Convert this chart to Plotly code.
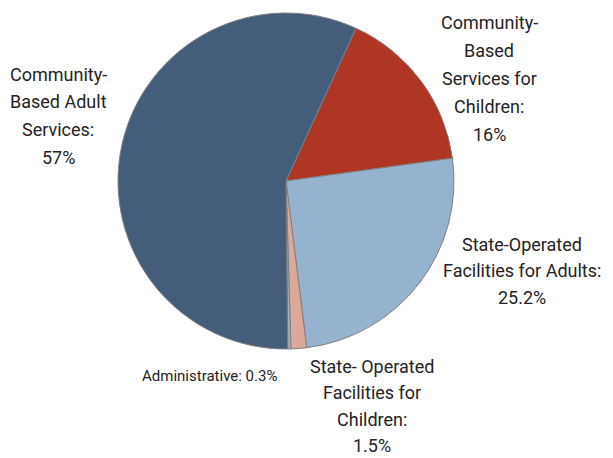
import plotly.graph_objects as go

# Budget shares by spending category (percent), in clockwise drawing order
categories = [
    "Community-Based Services for Children",
    "State-Operated Facilities for Adults",
    "State- Operated Facilities for Children",
    "Administrative",
    "Community-Based Adult Services",
]
shares = [16, 25.2, 1.5, 0.3, 57]

# Wrapped label text for each category (value is appended as the last line)
label_lines = [
    ["Community-", "Based", "Services for", "Children:"],
    ["State-Operated", "Facilities for Adults:"],
    ["State- Operated", "Facilities for", "Children:"],
    ["Administrative:"],
    ["Community-", "Based Adult", "Services:"],
]

colors = ["#b03624", "#95b3ce", "#dba99a", "#a9afb5", "#445d7b"]

W, H = 613, 458
cx, cy, r = 286, 181, 168

fig = go.Figure(
    go.Pie(
        labels=categories,
        values=shares,
        sort=False,
        direction="clockwise",
        rotation=24.6,
        marker=dict(colors=colors, line=dict(color="#7f7f7f", width=1)),
        textinfo="none",
        hoverinfo="label+percent",
        showlegend=False,
        domain=dict(x=[(cx - r) / W, (cx + r) / W], y=[1 - (cy + r) / H, 1 - (cy - r) / H]),
    )
)

# Label layout: centre of first line (px), line step (px), font size
label_pos = [(489, 22.5), (522, 244), (372, 366), (209.5, 376), (58, 74)]
line_step = [28, 26.5, 26.5, 0, 27.7]
label_size = [18, 18, 18, 15, 18]
FONT = "Roboto, Liberation Sans, Arial, sans-serif"

for lines, val, (px, py), step, fs in zip(label_lines, shares, label_pos, line_step, label_size):
    if len(lines) == 1:
        rows = [f"{lines[0]} {val:g}%"]
    else:
        rows = lines + [f"{val:g}%"]
    for i, row in enumerate(rows):
        fig.add_annotation(
            x=px / W, y=1 - (py + i * step) / H, xref="paper", yref="paper",
            text=row, showarrow=False, align="center",
            xanchor="center", yanchor="middle",
            font=dict(family=FONT, size=fs, color="#232323"),
        )

fig.update_layout(
    width=W, height=H,
    margin=dict(l=0, r=0, t=0, b=0),
    paper_bgcolor="white", plot_bgcolor="white",
)

fig.write_html("out.html")
